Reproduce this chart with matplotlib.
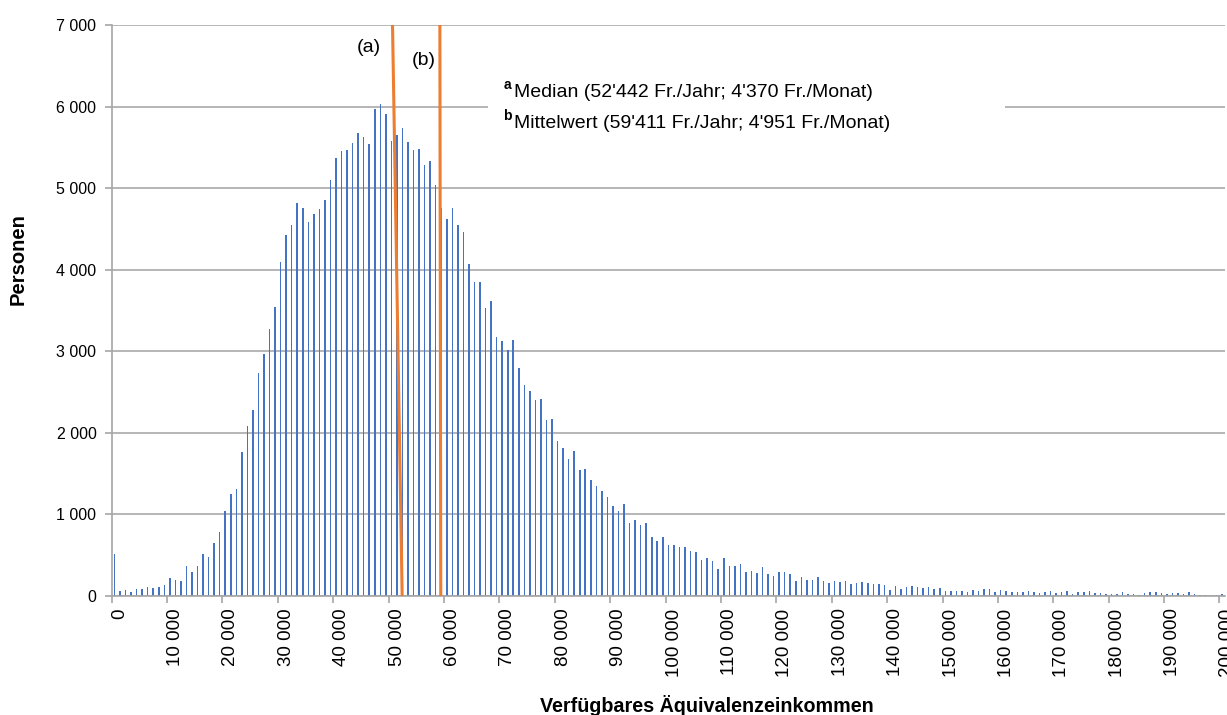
import numpy as np
import matplotlib
matplotlib.use('Agg')
import matplotlib.pyplot as plt
from matplotlib.patches import Rectangle

plt.rcParams['font.family'] = ['Liberation Sans', 'DejaVu Sans']

# Personen je 1000 Fr. Klasse (0 .. 200 000)
personen = [515, 64, 69, 55, 83, 83, 105, 96, 105, 133,
            220, 197, 183, 371, 298, 362, 518, 472, 651, 779,
            1045, 1247, 1307, 1761, 2082, 2279, 2737, 2962, 3269, 3544,
            4094, 4429, 4544, 4819, 4755, 4580, 4681, 4745, 4860, 5099,
            5374, 5456, 5465, 5552, 5681, 5621, 5543, 5970, 6034, 5906,
            5580, 5653, 5741, 5571, 5465, 5474, 5287, 5337, 5034, 4755,
            4617, 4755, 4544, 4466, 4071, 3847, 3847, 3530, 3622, 3173,
            3127, 3012, 3136, 2797, 2586, 2508, 2407, 2416, 2155, 2164,
            1898, 1820, 1674, 1774, 1545, 1559, 1421, 1353, 1284, 1215,
            1100, 1045, 1128, 899, 926, 876, 899, 724, 679, 724,
            627, 627, 602, 598, 549, 537, 447, 467, 434, 336,
            471, 373, 373, 398, 299, 307, 287, 361, 275, 250,
            299, 299, 275, 184, 234, 197, 197, 234, 184, 160,
            184, 172, 184, 148, 160, 172, 160, 148, 148, 131,
            70, 119, 82, 107, 119, 107, 94, 107, 82, 94,
            66, 66, 66, 66, 53, 78, 66, 82, 90, 53,
            78, 66, 53, 53, 53, 66, 53, 41, 53, 66,
            41, 53, 66, 29, 53, 53, 66, 41, 41, 29,
            29, 29, 53, 29, 29, 16, 41, 53, 53, 41,
            29, 41, 41, 29, 53, 29, 16, 16, 5, 16,
            29]
klasse = np.arange(len(personen)) * 1000

median = 52442
mittelwert = 59411
# die Linien im Original sind oben leicht verschoben
median_oben = 50700
mittel_oben = 59250

xticks = np.arange(0, 200001, 10000)
yticks = np.arange(0, 7001, 1000)

def fmt(v):
    return '{:,}'.format(int(v)).replace(',', ' ')

fig = plt.figure(figsize=(12.27, 7.15), dpi=100)
ax = fig.add_axes([111.7/1227, 1-596/715, 1113.3/1227, 571/715])

ax.bar(klasse + 500, personen, width=280, color='#4472C4', zorder=2)

ax.plot([median, median_oben], [0, 7000], color='#ED7D31', lw=2.2, zorder=4, solid_capstyle='butt')
ax.plot([mittelwert, mittel_oben], [0, 7000], color='#ED7D31', lw=2.2, zorder=4, solid_capstyle='butt')

ax.set_xlim(0, 201000)
ax.set_ylim(0, 7000)
ax.set_xticks(xticks)
ax.set_xticklabels([fmt(v) for v in xticks], rotation=90, fontsize=13.5)
ax.set_yticks(yticks)
ax.set_yticklabels([fmt(v) for v in yticks], fontsize=11.5)
ax.tick_params(axis='both', color='#A6A6A6', length=5, width=1.2)
ax.tick_params(axis='x', pad=4)
ax.tick_params(axis='y', pad=6)
for lab in ax.get_xticklabels():
    lab.set_x(lab.get_position()[0])
    lab.set_horizontalalignment('left')

ax.grid(axis='y', color='#A9A9A9', lw=1.2, zorder=1)
ax.set_axisbelow(True)
for s in ['top', 'right']:
    ax.spines[s].set_visible(False)
ax.spines['left'].set_color('#A6A6A6')
ax.spines['bottom'].set_color('#A6A6A6')
ax.spines['left'].set_linewidth(1.2)
ax.spines['bottom'].set_linewidth(1.2)

# weisser Kasten hinter der Legende
ax.add_patch(Rectangle((67900, 5600), 93300, 780, facecolor='white', edgecolor='none', zorder=3))

ax.text(46450, 6730, '(a)', fontsize=14, ha='center', va='center', zorder=5)
ax.text(56400, 6570, '(b)', fontsize=14, ha='center', va='center', zorder=5)

ax.text(70700, 6260, 'a', fontsize=10, fontweight='bold', ha='left', va='center', zorder=5)
ax.text(72700, 6170, "Median (52'442 Fr./Jahr; 4'370 Fr./Monat)", fontsize=14, ha='left', va='center', zorder=5)
ax.text(70700, 5880, 'b', fontsize=10, fontweight='bold', ha='left', va='center', zorder=5)
ax.text(72700, 5790, "Mittelwert (59'411 Fr./Jahr; 4'951 Fr./Monat)", fontsize=14, ha='left', va='center', zorder=5)

fig.text(18/1227, 1-259/715, 'Personen', rotation=90, fontsize=14.5, fontweight='bold', ha='center', va='center')
fig.text(707/1227, 1-706/715, 'Verfügbares Äquivalenzeinkommen', fontsize=14.2, fontweight='bold', ha='center', va='center')

plt.savefig('out.png', dpi=100)
